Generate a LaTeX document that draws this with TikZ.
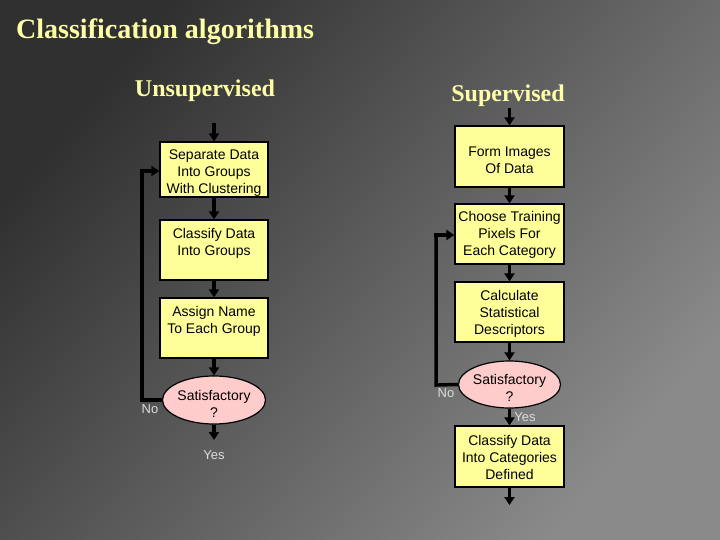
\documentclass[tikz,border=0pt]{standalone}
\usepackage{fontspec}
\setmainfont{Liberation Sans}
\newfontfamily\headfont{Liberation Serif}
\usetikzlibrary{arrows.meta,shapes.geometric}
\definecolor{bgdark}{HTML}{303030}
\definecolor{bglight}{HTML}{8A8A8A}
\definecolor{headyel}{HTML}{FFFFA8}
\definecolor{boxyel}{HTML}{FFFF99}
\definecolor{ellpink}{HTML}{FFCCCC}
\definecolor{lbl}{HTML}{DCDCDC}
\tikzset{
  stepbox/.style={draw=black, line width=1.2pt, fill=boxyel, rectangle, minimum width=108pt, inner sep=0pt},
  decis/.style={draw=black, line width=1.2pt, fill=ellpink, ellipse, minimum width=103pt, minimum height=48pt, inner sep=0pt},
  boxtext/.style={align=center, inner sep=0pt, font=\fontsize{14}{17}\selectfont},
  flow/.style={line width=3.5pt, -{Triangle[width=10pt,length=8pt]}},
  loopline/.style={line width=3.5pt},
  lab/.style={text=lbl, font=\fontsize{13}{15}\selectfont, inner sep=0pt},
  head/.style={text=headyel, font=\headfont\bfseries\fontsize{24}{28}\selectfont, inner sep=0pt},
}
\begin{document}
\begin{tikzpicture}[x=1pt,y=-1pt]
\shade[shading=axis, top color=bgdark, bottom color=bglight, shading angle=50] (0,0) rectangle (720,540);
\useasboundingbox (0,0) rectangle (720,540);

\node[head, anchor=base west, font=\headfont\bfseries\fontsize{28}{32}\selectfont] (title) at (16,39) {Classification algorithms};
\node[head, anchor=base] (uns) at (205,97) {Unsupervised};
\node[head, anchor=base] (sup) at (508,102) {Supervised};

% left column
\node[stepbox, minimum height=55pt] (b1) at (214,169.5) {};
\node[boxtext] (b1t) at (214,173.5) {Separate Data\\Into Groups\\With Clustering};
\node[stepbox, minimum height=60pt] (b2) at (214,250) {};
\node[boxtext] (b2t) at (214,243.5) {Classify Data\\Into Groups};
\node[stepbox, minimum height=60pt] (b3) at (214,328) {};
\node[boxtext] (b3t) at (214,321.5) {Assign Name\\To Each Group};
\node[decis] (e1) at (214,400) {};
\node[boxtext] (e1t) at (214,403.5) {Satisfactory\\?};
\coordinate (ltop) at (214,123);
\coordinate (lend) at (214,440);
\coordinate (lloopb) at (142,400);
\coordinate (lloopt) at (142,171);
\draw[flow] (ltop) -- (b1.north);
\draw[flow] (b1.south) -- (b2.north);
\draw[flow] (b2.south) -- (b3.north);
\draw[flow] (b3.south) -- (e1.north);
\draw[flow] (e1.south) -- (lend);
\draw[loopline] (e1.west) -- (lloopb) -- (lloopt);
\draw[flow] ([xshift=-1.75pt]lloopt) -- (b1.west |- lloopt);
\node[lab] (lno) at (150,409) {No};
\node[lab] (lyes) at (214,455) {Yes};

% right column
\node[stepbox, minimum width=109pt, minimum height=61pt] (r1) at (509.5,156.5) {};
\node[boxtext] (r1t) at (509.5,160) {Form Images\\Of Data};
\node[stepbox, minimum width=109pt, minimum height=60pt] (r2) at (509.5,234) {};
\node[boxtext] (r2t) at (509.5,235) {Choose Training\\Pixels For\\Each Category};
\node[stepbox, minimum width=109pt, minimum height=60pt] (r3) at (509.5,312) {};
\node[boxtext] (r3t) at (509.5,313.5) {Calculate\\Statistical\\Descriptors};
\node[decis, minimum width=102pt, minimum height=47pt] (e2) at (509.5,384.5) {};
\node[boxtext] (e2t) at (509.5,388) {Satisfactory\\?};
\node[stepbox, minimum width=109pt, minimum height=61pt] (r4) at (509.5,456.5) {};
\node[boxtext] (r4t) at (509.5,457) {Classify Data\\Into Categories\\Defined};
\coordinate (rtop) at (509.5,108);
\coordinate (rend) at (509.5,505);
\coordinate (rloopb) at (436,385);
\coordinate (rloopt) at (436,235);
\draw[flow] (rtop) -- (r1.north);
\draw[flow] (r1.south) -- (r2.north);
\draw[flow] (r2.south) -- (r3.north);
\draw[flow] (r3.south) -- (e2.north);
\draw[flow] (e2.south) -- (r4.north);
\draw[flow] (r4.south) -- (rend);
\draw[loopline] (e2.west) -- (rloopb) -- (rloopt);
\draw[flow] ([xshift=-1.75pt]rloopt) -- (r2.west |- rloopt);
\node[lab] (rno) at (446,393) {No};
\node[lab] (ryes) at (525,417) {Yes};
\end{tikzpicture}
\end{document}
